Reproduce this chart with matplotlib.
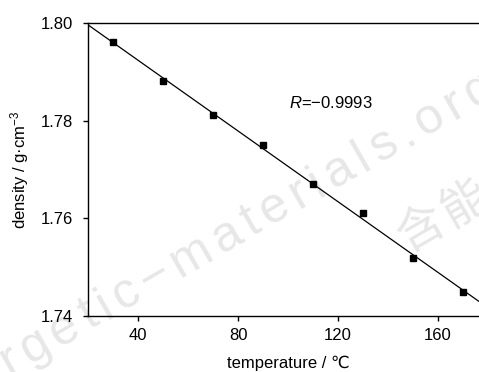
import matplotlib
matplotlib.use("Agg")
import matplotlib.pyplot as plt
import numpy as np
from matplotlib.font_manager import FontProperties, findfont, get_font

# measured density vs temperature
temperature = [30, 50, 70, 90, 110, 130, 150, 170]
density = [1.7962, 1.7881, 1.7811, 1.7750, 1.7670, 1.7610, 1.7519, 1.7449]
x_ticks = [40, 80, 120, 160]
y_ticks = [1.74, 1.76, 1.78, 1.80]
r_label = "$R$=\u22120.9993"

W, H, DPI = 479, 372, 100

plt.rcParams["font.family"] = ["Liberation Sans", "DejaVu Sans"]
plt.rcParams["mathtext.fontset"] = "custom"
plt.rcParams["mathtext.rm"] = "Liberation Sans"
plt.rcParams["mathtext.it"] = "Liberation Sans:italic"

fig = plt.figure(figsize=(W / DPI, H / DPI), dpi=DPI)


def advances(text, prop):
    # glyph advance widths in pixels
    font = get_font(findfont(prop))
    font.set_size(prop.get_size_in_points(), DPI)
    return [font.load_char(ord(c)).linearHoriAdvance / 65536 for c in text]


def spaced_text(text, start, angle, prop, tracking, color):
    # lay the characters one by one along a rotated baseline
    # start is (x, y) in pixels from the top-left corner
    d = np.array([np.cos(np.radians(angle)), -np.sin(np.radians(angle))])
    pos = np.array(start, dtype=float)
    for ch, a in zip(text, advances(text, prop)):
        fig.text(pos[0] / W, 1 - pos[1] / H, ch, fontproperties=prop,
                 color=color, rotation=angle, rotation_mode="anchor",
                 ha="left", va="baseline", zorder=-1)
        pos = pos + d * (a + tracking)


# watermark behind the plot, anchored on the "o" of ".org"
WM = "#e7e7e7"
d30 = np.array([np.cos(np.radians(30)), -np.sin(np.radians(30))])
mark = "energetic\u2212materials.org"
mprop = FontProperties(family="Liberation Sans", size=36)
track = 6.5
adv = sum(advances(mark[:-3], mprop)) + track * (len(mark) - 3)
spaced_text(mark, np.array([424.0, 137.0]) - d30 * adv, 30, mprop, track, WM)
cprop = FontProperties(family="Noto Sans CJK SC", size=34)
spaced_text("含能材料", (407, 253), 30, cprop, 4.0, WM)

ax = fig.add_axes([88 / W, 1 - 316 / H, 400 / W, 293 / H])
ax.patch.set_alpha(0)

# linear fit
slope, intercept = np.polyfit(temperature, density, 1)
xs = np.array([20, 180])
ax.plot(xs, slope * xs + intercept, color="black", lw=0.9)
ax.plot(temperature, density, "s", color="black", ms=4.8)

ax.set_xlim(20, 180)
ax.set_ylim(1.74, 1.80)
ax.set_xticks(x_ticks)
ax.set_yticks(y_ticks)
ax.set_yticklabels([f"{v:.2f}" for v in y_ticks])

for s in ax.spines.values():
    s.set_linewidth(1.0)
ax.tick_params(direction="out", length=3.8, width=1.0, labelsize=12)
ax.tick_params(axis="x", pad=5)
ax.tick_params(axis="y", pad=7)

ax.set_xlabel("temperature / \u2103", fontsize=12, labelpad=9)
ax.set_ylabel("density / g\u00b7cm$^{-3}$", fontsize=12, labelpad=7)

ax.text(100.5, 1.7837, r_label, fontsize=12, va="center", ha="left")

fig.savefig("out.png", dpi=DPI)
